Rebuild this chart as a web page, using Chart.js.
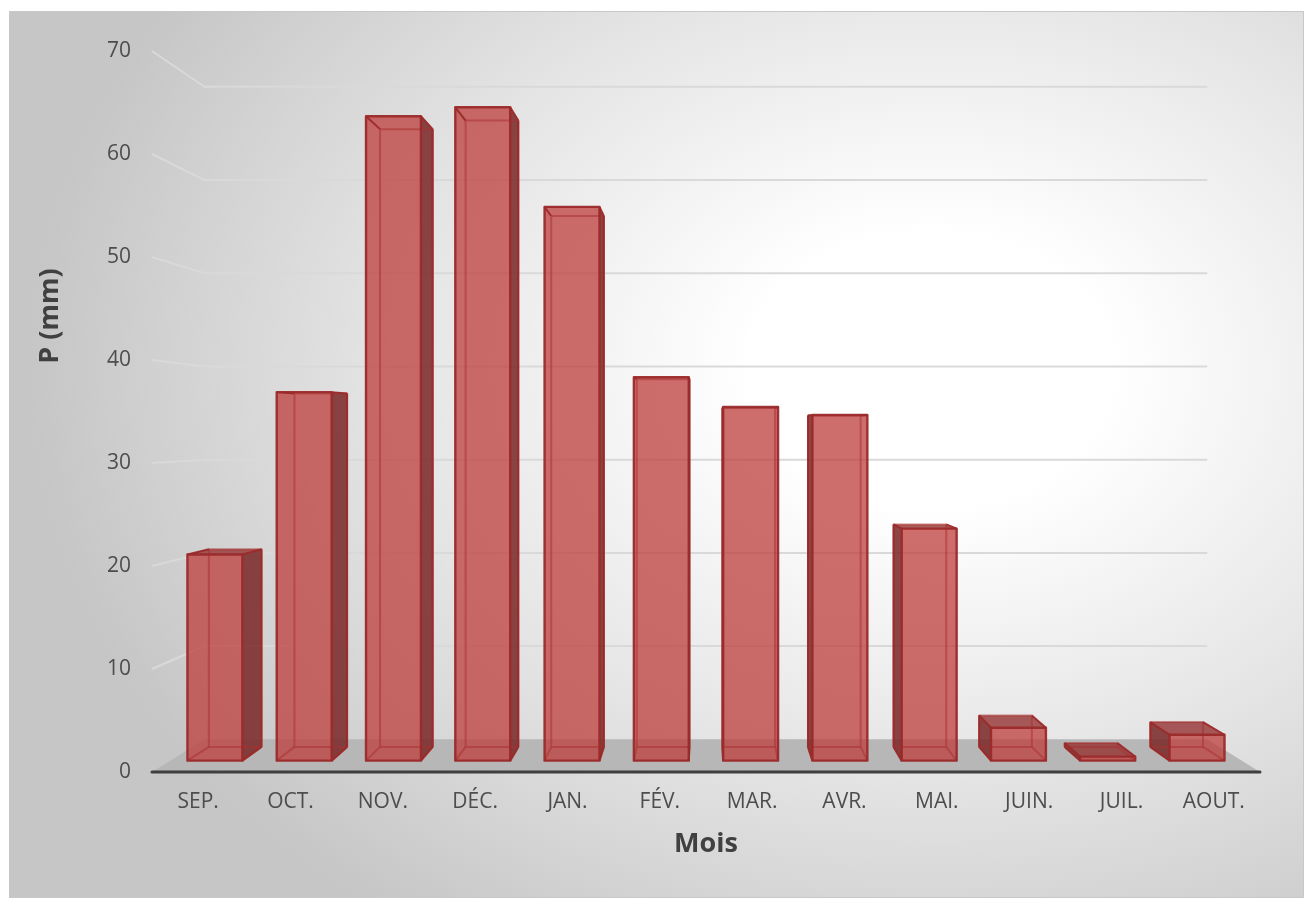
<!DOCTYPE html>
<html lang="fr">
<head>
<meta charset="utf-8">
<title>Précipitations mensuelles</title>
<script src="https://cdn.jsdelivr.net/npm/chart.js@4.4.1/dist/chart.umd.min.js"></script>
<style>
  html, body { margin: 0; padding: 0; background: #fff; }
  canvas { display: block; }
</style>
</head>
<body>
<canvas id="chartCanvas" width="1309" height="899"></canvas>
<script>
const months = ['SEP.', 'OCT.', 'NOV.', 'DÉC.', 'JAN.', 'FÉV.', 'MAR.', 'AVR.', 'MAI.', 'JUIN.', 'JUIL.', 'AOUT.'];
const rainfall = [20.7, 37.0, 64.7, 65.6, 55.6, 38.5, 35.5, 34.7, 23.3, 3.3, 0.4, 2.6];
const yTicks = [0, 10, 20, 30, 40, 50, 60, 70];
const yTitle = 'P (mm)';
const xTitle = 'Mois';

const FONT = "'Open Sans', 'Noto Sans', sans-serif";

// perspective: everything is pushed towards the vanishing point,
// k = 1 is the front edge of the floor, smaller k is further back
const VP = { x: 705, y: 428 };
const DEPTH = { barFront: 0.967, barBack: 0.927, wall: 0.905 };

const project = (x, y, k) => [VP.x + (x - VP.x) * k, VP.y + (y - VP.y) * k];

function poly(ctx, pts, fill, stroke, lw) {
  ctx.beginPath();
  ctx.moveTo(pts[0][0], pts[0][1]);
  for (let i = 1; i < pts.length; i++) ctx.lineTo(pts[i][0], pts[i][1]);
  ctx.closePath();
  if (fill) { ctx.fillStyle = fill; ctx.fill(); }
  if (stroke) { ctx.strokeStyle = stroke; ctx.lineWidth = lw; ctx.stroke(); }
}

function seg(ctx, a, b) {
  ctx.beginPath();
  ctx.moveTo(a[0], a[1]);
  ctx.lineTo(b[0], b[1]);
  ctx.stroke();
}

// grey panel with a soft light spot
const panel = {
  id: 'panel',
  beforeDraw(chart) {
    const ctx = chart.ctx;
    ctx.save();
    ctx.fillStyle = '#fff';
    ctx.fillRect(0, 0, chart.width, chart.height);
    ctx.beginPath();
    ctx.rect(9, 11, 1295, 887);
    ctx.clip();
    const rx = 900, ry = 680;
    ctx.translate(930, 370);
    ctx.scale(1, ry / rx);
    const g = ctx.createRadialGradient(0, 0, 0, 0, 0, rx);
    g.addColorStop(0, '#ffffff');
    g.addColorStop(0.2, '#ffffff');
    g.addColorStop(0.6, '#e4e4e4');
    g.addColorStop(1, '#c6c6c6');
    ctx.fillStyle = g;
    ctx.fillRect(-2 * rx, -2 * rx, 4 * rx, 4 * rx);
    ctx.restore();
    ctx.save();
    ctx.strokeStyle = '#c8c8c8';
    ctx.lineWidth = 1;
    ctx.strokeRect(9.5, 11.5, 1294, 886);
    ctx.restore();
  }
};

// back wall, side wall and floor
const walls = {
  id: 'walls',
  beforeDatasetsDraw(chart) {
    const ctx = chart.ctx;
    const { left, right } = chart.chartArea;
    const y = chart.scales.y;
    ctx.save();
    ctx.strokeStyle = '#d9d9d9';
    ctx.lineWidth = 2;
    yTicks.forEach(v => {
      if (v === 0) return;
      const py = y.getPixelForValue(v);
      const a = project(left, py, DEPTH.wall);
      const b = project(right, py, DEPTH.wall);
      ctx.beginPath();
      ctx.moveTo(left, py);
      ctx.lineTo(a[0], a[1]);
      ctx.lineTo(b[0], b[1]);
      ctx.stroke();
    });
    const base = y.getPixelForValue(0);
    poly(ctx, [[left, base], [right, base], project(right, base, DEPTH.wall), project(left, base, DEPTH.wall)], '#b7b7b7');
    ctx.strokeStyle = '#3f3f3f';
    ctx.lineWidth = 3;
    ctx.lineCap = 'round';
    seg(ctx, [left, base], [right, base]);
    ctx.restore();
  }
};

// translucent 3D boxes built from the bar elements
const boxes = {
  id: 'boxes',
  afterDatasetsDraw(chart) {
    const ctx = chart.ctx;
    const face = 'rgba(190,62,60,0.5)';
    const side = 'rgba(110,36,36,0.72)';
    const lid = 'rgba(130,40,40,0.55)';
    const backEdge = 'rgba(170,50,50,0.55)';
    const frontEdge = 'rgba(155,42,42,0.95)';
    ctx.save();
    ctx.lineJoin = 'round';
    chart.getDatasetMeta(0).data.forEach(bar => {
      const { x, y, base, width } = bar.getProps(['x', 'y', 'base', 'width'], true);
      const l = x - width / 2, r = x + width / 2;
      const corners = k => ({
        lt: project(l, y, k), rt: project(r, y, k),
        rb: project(r, base, k), lb: project(l, base, k)
      });
      const F = corners(DEPTH.barFront);
      const B = corners(DEPTH.barBack);
      const leftFace = [F.lt, B.lt, B.lb, F.lb];
      const rightFace = [F.rt, B.rt, B.rb, F.rb];
      const seesRight = x < VP.x;

      poly(ctx, [B.lt, B.rt, B.rb, B.lb], face);
      poly(ctx, [F.lb, F.rb, B.rb, B.lb], face);
      poly(ctx, seesRight ? leftFace : rightFace, face);
      poly(ctx, [F.lt, F.rt, B.rt, B.lt], F.lt[1] > VP.y ? lid : face);
      poly(ctx, seesRight ? rightFace : leftFace, side);
      poly(ctx, [F.lt, F.rt, F.rb, F.lb], face);

      ctx.strokeStyle = backEdge;
      ctx.lineWidth = 2;
      poly(ctx, [B.lt, B.rt, B.rb, B.lb], null, backEdge, 2);
      seg(ctx, F.lb, B.lb);
      seg(ctx, F.rb, B.rb);
      ctx.strokeStyle = frontEdge;
      seg(ctx, F.lt, B.lt);
      seg(ctx, F.rt, B.rt);
      if (seesRight) { seg(ctx, B.rt, B.rb); seg(ctx, F.rb, B.rb); }
      else { seg(ctx, B.lt, B.lb); seg(ctx, F.lb, B.lb); }
      poly(ctx, [F.lt, F.rt, F.rb, F.lb], null, frontEdge, 2.4);
    });
    ctx.restore();
  }
};

// rotated value-axis title
const valueTitle = {
  id: 'valueTitle',
  afterDraw(chart) {
    const ctx = chart.ctx;
    ctx.save();
    ctx.translate(50, 316);
    ctx.rotate(-Math.PI / 2);
    ctx.fillStyle = '#404040';
    ctx.font = `bold 27px ${FONT}`;
    ctx.textAlign = 'center';
    ctx.textBaseline = 'middle';
    ctx.fillText(yTitle, 0, 0);
    ctx.restore();
  }
};

new Chart(document.getElementById('chartCanvas'), {
  type: 'bar',
  data: {
    labels: months,
    datasets: [{
      label: yTitle,
      data: rainfall,
      backgroundColor: 'rgba(0,0,0,0)',
      borderWidth: 0,
      barPercentage: 0.615,
      categoryPercentage: 1
    }]
  },
  options: {
    responsive: false,
    animation: false,
    layout: { padding: { top: 51, right: 49, bottom: 0, left: 0 } },
    plugins: {
      legend: { display: false },
      tooltip: { enabled: false }
    },
    scales: {
      x: {
        grid: { display: false, drawTicks: false },
        border: { display: false },
        ticks: {
          color: '#4d4d4d',
          font: { family: FONT, size: 21 },
          padding: 17,
          maxRotation: 0,
          autoSkip: false
        },
        title: {
          display: true,
          text: xTitle,
          color: '#404040',
          font: { family: FONT, size: 27, weight: 'bold' },
          padding: { top: 0, bottom: 38 }
        },
        afterFit(scale) { scale.height = 127; }
      },
      y: {
        min: 0,
        max: 70,
        afterBuildTicks(scale) { scale.ticks = yTicks.map(v => ({ value: v })); },
        grid: { display: false, drawTicks: false },
        border: { display: false },
        ticks: {
          color: '#4d4d4d',
          font: { family: FONT, size: 21 },
          padding: 21
        },
        afterFit(scale) { scale.width = 152; }
      }
    }
  },
  plugins: [panel, walls, boxes, valueTitle]
});
</script>
</body>
</html>
